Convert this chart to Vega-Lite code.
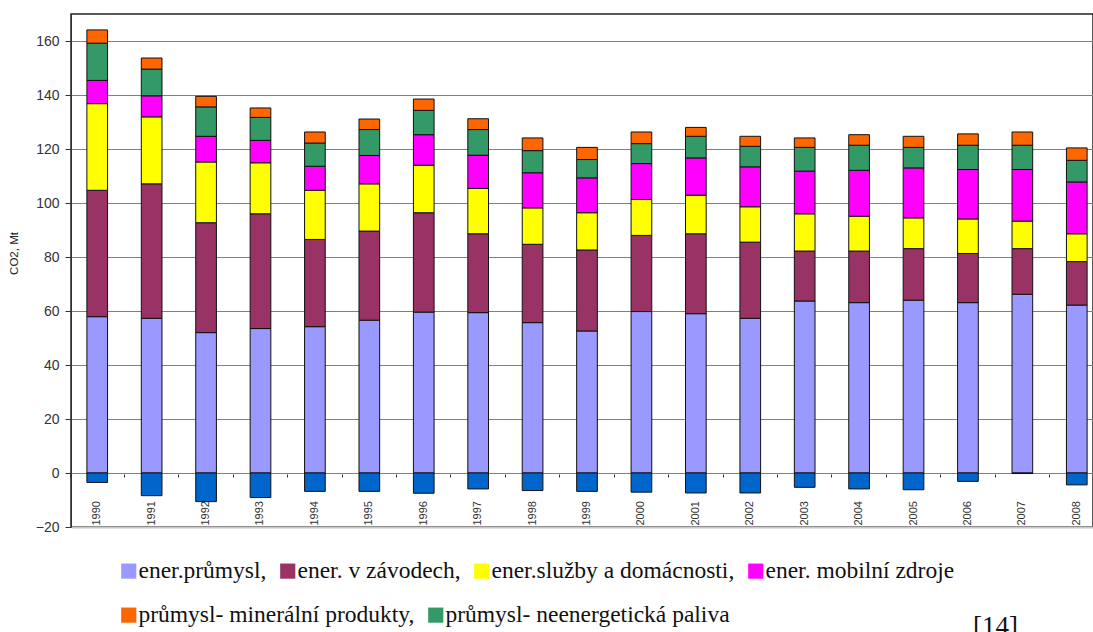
{
  "$schema": "https://vega.github.io/schema/vega-lite/v6.json",
  "autosize": {"type": "none"},
  "padding": {"left": 71, "top": 14, "right": 0, "bottom": 105},
  "width": 1022,
  "height": 513,
  "background": "white",
  "title": {
    "text": "[14]",
    "orient": "bottom",
    "anchor": "end",
    "frame": "group",
    "baseline": "top",
    "font": "Liberation Serif",
    "fontSize": 27,
    "fontWeight": "normal",
    "color": "#111",
    "dx": -75,
    "offset": -13
  },
  "config": {
    "view": {"stroke": "#222", "strokeWidth": 1.5},
    "legend": {
      "orient": "none",
      "title": null,
      "padding": 0,
      "direction": "horizontal",
      "symbolType": "square",
      "symbolSize": 230,
      "symbolStrokeWidth": 0,
      "symbolOpacity": 1,
      "labelFont": "Liberation Serif",
      "labelFontSize": 23.5,
      "labelColor": "#111",
      "labelOffset": -2,
      "labelLimit": 500,
      "columnPadding": 9
    }
  },
  "datasets": {
    "emise": [
      {"rok": "1990", "zdroj": "ener.průmysl", "hodnota": 57.9},
      {"rok": "1990", "zdroj": "ener. v závodech", "hodnota": 46.8},
      {"rok": "1990", "zdroj": "ener.služby a domácnosti", "hodnota": 32.1},
      {"rok": "1990", "zdroj": "ener. mobilní zdroje", "hodnota": 8.6},
      {"rok": "1990", "zdroj": "průmysl- neenergetická paliva", "hodnota": 13.8},
      {"rok": "1990", "zdroj": "průmysl- minerální produkty", "hodnota": 4.9},
      {"rok": "1991", "zdroj": "ener.průmysl", "hodnota": 57.3},
      {"rok": "1991", "zdroj": "ener. v závodech", "hodnota": 49.8},
      {"rok": "1991", "zdroj": "ener.služby a domácnosti", "hodnota": 24.8},
      {"rok": "1991", "zdroj": "ener. mobilní zdroje", "hodnota": 7.8},
      {"rok": "1991", "zdroj": "průmysl- neenergetická paliva", "hodnota": 9.9},
      {"rok": "1991", "zdroj": "průmysl- minerální produkty", "hodnota": 4.1},
      {"rok": "1992", "zdroj": "ener.průmysl", "hodnota": 52.0},
      {"rok": "1992", "zdroj": "ener. v závodech", "hodnota": 40.7},
      {"rok": "1992", "zdroj": "ener.služby a domácnosti", "hodnota": 22.5},
      {"rok": "1992", "zdroj": "ener. mobilní zdroje", "hodnota": 9.5},
      {"rok": "1992", "zdroj": "průmysl- neenergetická paliva", "hodnota": 10.9},
      {"rok": "1992", "zdroj": "průmysl- minerální produkty", "hodnota": 3.9},
      {"rok": "1993", "zdroj": "ener.průmysl", "hodnota": 53.5},
      {"rok": "1993", "zdroj": "ener. v závodech", "hodnota": 42.5},
      {"rok": "1993", "zdroj": "ener.služby a domácnosti", "hodnota": 18.9},
      {"rok": "1993", "zdroj": "ener. mobilní zdroje", "hodnota": 8.3},
      {"rok": "1993", "zdroj": "průmysl- neenergetická paliva", "hodnota": 8.5},
      {"rok": "1993", "zdroj": "průmysl- minerální produkty", "hodnota": 3.5},
      {"rok": "1994", "zdroj": "ener.průmysl", "hodnota": 54.2},
      {"rok": "1994", "zdroj": "ener. v závodech", "hodnota": 32.3},
      {"rok": "1994", "zdroj": "ener.služby a domácnosti", "hodnota": 18.2},
      {"rok": "1994", "zdroj": "ener. mobilní zdroje", "hodnota": 8.9},
      {"rok": "1994", "zdroj": "průmysl- neenergetická paliva", "hodnota": 8.6},
      {"rok": "1994", "zdroj": "průmysl- minerální produkty", "hodnota": 4.1},
      {"rok": "1995", "zdroj": "ener.průmysl", "hodnota": 56.6},
      {"rok": "1995", "zdroj": "ener. v závodech", "hodnota": 33.0},
      {"rok": "1995", "zdroj": "ener.služby a domácnosti", "hodnota": 17.5},
      {"rok": "1995", "zdroj": "ener. mobilní zdroje", "hodnota": 10.5},
      {"rok": "1995", "zdroj": "průmysl- neenergetická paliva", "hodnota": 9.6},
      {"rok": "1995", "zdroj": "průmysl- minerální produkty", "hodnota": 3.9},
      {"rok": "1996", "zdroj": "ener.průmysl", "hodnota": 59.6},
      {"rok": "1996", "zdroj": "ener. v závodech", "hodnota": 36.8},
      {"rok": "1996", "zdroj": "ener.služby a domácnosti", "hodnota": 17.6},
      {"rok": "1996", "zdroj": "ener. mobilní zdroje", "hodnota": 11.3},
      {"rok": "1996", "zdroj": "průmysl- neenergetická paliva", "hodnota": 9.0},
      {"rok": "1996", "zdroj": "průmysl- minerální produkty", "hodnota": 4.2},
      {"rok": "1997", "zdroj": "ener.průmysl", "hodnota": 59.4},
      {"rok": "1997", "zdroj": "ener. v závodech", "hodnota": 29.2},
      {"rok": "1997", "zdroj": "ener.služby a domácnosti", "hodnota": 16.8},
      {"rok": "1997", "zdroj": "ener. mobilní zdroje", "hodnota": 12.3},
      {"rok": "1997", "zdroj": "průmysl- neenergetická paliva", "hodnota": 9.5},
      {"rok": "1997", "zdroj": "průmysl- minerální produkty", "hodnota": 4.0},
      {"rok": "1998", "zdroj": "ener.průmysl", "hodnota": 55.7},
      {"rok": "1998", "zdroj": "ener. v závodech", "hodnota": 29.0},
      {"rok": "1998", "zdroj": "ener.služby a domácnosti", "hodnota": 13.5},
      {"rok": "1998", "zdroj": "ener. mobilní zdroje", "hodnota": 13.0},
      {"rok": "1998", "zdroj": "průmysl- neenergetická paliva", "hodnota": 8.2},
      {"rok": "1998", "zdroj": "průmysl- minerální produkty", "hodnota": 4.7},
      {"rok": "1999", "zdroj": "ener.průmysl", "hodnota": 52.6},
      {"rok": "1999", "zdroj": "ener. v závodech", "hodnota": 30.0},
      {"rok": "1999", "zdroj": "ener.služby a domácnosti", "hodnota": 13.8},
      {"rok": "1999", "zdroj": "ener. mobilní zdroje", "hodnota": 12.9},
      {"rok": "1999", "zdroj": "průmysl- neenergetická paliva", "hodnota": 6.8},
      {"rok": "1999", "zdroj": "průmysl- minerální produkty", "hodnota": 4.5},
      {"rok": "2000", "zdroj": "ener.průmysl", "hodnota": 59.8},
      {"rok": "2000", "zdroj": "ener. v závodech", "hodnota": 28.2},
      {"rok": "2000", "zdroj": "ener.služby a domácnosti", "hodnota": 13.3},
      {"rok": "2000", "zdroj": "ener. mobilní zdroje", "hodnota": 13.3},
      {"rok": "2000", "zdroj": "průmysl- neenergetická paliva", "hodnota": 7.4},
      {"rok": "2000", "zdroj": "průmysl- minerální produkty", "hodnota": 4.3},
      {"rok": "2001", "zdroj": "ener.průmysl", "hodnota": 59.0},
      {"rok": "2001", "zdroj": "ener. v závodech", "hodnota": 29.6},
      {"rok": "2001", "zdroj": "ener.služby a domácnosti", "hodnota": 14.3},
      {"rok": "2001", "zdroj": "ener. mobilní zdroje", "hodnota": 13.8},
      {"rok": "2001", "zdroj": "průmysl- neenergetická paliva", "hodnota": 8.0},
      {"rok": "2001", "zdroj": "průmysl- minerální produkty", "hodnota": 3.3},
      {"rok": "2002", "zdroj": "ener.průmysl", "hodnota": 57.3},
      {"rok": "2002", "zdroj": "ener. v závodech", "hodnota": 28.2},
      {"rok": "2002", "zdroj": "ener.služby a domácnosti", "hodnota": 13.1},
      {"rok": "2002", "zdroj": "ener. mobilní zdroje", "hodnota": 14.8},
      {"rok": "2002", "zdroj": "průmysl- neenergetická paliva", "hodnota": 7.6},
      {"rok": "2002", "zdroj": "průmysl- minerální produkty", "hodnota": 3.7},
      {"rok": "2003", "zdroj": "ener.průmysl", "hodnota": 63.7},
      {"rok": "2003", "zdroj": "ener. v závodech", "hodnota": 18.5},
      {"rok": "2003", "zdroj": "ener.služby a domácnosti", "hodnota": 13.8},
      {"rok": "2003", "zdroj": "ener. mobilní zdroje", "hodnota": 15.8},
      {"rok": "2003", "zdroj": "průmysl- neenergetická paliva", "hodnota": 8.8},
      {"rok": "2003", "zdroj": "průmysl- minerální produkty", "hodnota": 3.5},
      {"rok": "2004", "zdroj": "ener.průmysl", "hodnota": 63.1},
      {"rok": "2004", "zdroj": "ener. v závodech", "hodnota": 19.1},
      {"rok": "2004", "zdroj": "ener.služby a domácnosti", "hodnota": 12.9},
      {"rok": "2004", "zdroj": "ener. mobilní zdroje", "hodnota": 17.0},
      {"rok": "2004", "zdroj": "průmysl- neenergetická paliva", "hodnota": 9.3},
      {"rok": "2004", "zdroj": "průmysl- minerální produkty", "hodnota": 3.9},
      {"rok": "2005", "zdroj": "ener.průmysl", "hodnota": 64.0},
      {"rok": "2005", "zdroj": "ener. v závodech", "hodnota": 19.1},
      {"rok": "2005", "zdroj": "ener.služby a domácnosti", "hodnota": 11.4},
      {"rok": "2005", "zdroj": "ener. mobilní zdroje", "hodnota": 18.5},
      {"rok": "2005", "zdroj": "průmysl- neenergetická paliva", "hodnota": 7.6},
      {"rok": "2005", "zdroj": "průmysl- minerální produkty", "hodnota": 4.1},
      {"rok": "2006", "zdroj": "ener.průmysl", "hodnota": 63.1},
      {"rok": "2006", "zdroj": "ener. v závodech", "hodnota": 18.2},
      {"rok": "2006", "zdroj": "ener.služby a domácnosti", "hodnota": 12.8},
      {"rok": "2006", "zdroj": "ener. mobilní zdroje", "hodnota": 18.3},
      {"rok": "2006", "zdroj": "průmysl- neenergetická paliva", "hodnota": 9.0},
      {"rok": "2006", "zdroj": "průmysl- minerální produkty", "hodnota": 4.2},
      {"rok": "2007", "zdroj": "ener.průmysl", "hodnota": 66.2},
      {"rok": "2007", "zdroj": "ener. v závodech", "hodnota": 16.9},
      {"rok": "2007", "zdroj": "ener.služby a domácnosti", "hodnota": 10.2},
      {"rok": "2007", "zdroj": "ener. mobilní zdroje", "hodnota": 19.1},
      {"rok": "2007", "zdroj": "průmysl- neenergetická paliva", "hodnota": 9.0},
      {"rok": "2007", "zdroj": "průmysl- minerální produkty", "hodnota": 4.9},
      {"rok": "2008", "zdroj": "ener.průmysl", "hodnota": 62.2},
      {"rok": "2008", "zdroj": "ener. v závodech", "hodnota": 16.1},
      {"rok": "2008", "zdroj": "ener.služby a domácnosti", "hodnota": 10.3},
      {"rok": "2008", "zdroj": "ener. mobilní zdroje", "hodnota": 19.2},
      {"rok": "2008", "zdroj": "průmysl- neenergetická paliva", "hodnota": 8.0},
      {"rok": "2008", "zdroj": "průmysl- minerální produkty", "hodnota": 4.6}
    ],
    "propady": [
      {"rok": "1990", "hodnota": -3.5},
      {"rok": "1991", "hodnota": -8.4},
      {"rok": "1992", "hodnota": -10.6},
      {"rok": "1993", "hodnota": -9.1},
      {"rok": "1994", "hodnota": -6.8},
      {"rok": "1995", "hodnota": -6.8},
      {"rok": "1996", "hodnota": -7.5},
      {"rok": "1997", "hodnota": -5.9},
      {"rok": "1998", "hodnota": -6.5},
      {"rok": "1999", "hodnota": -6.8},
      {"rok": "2000", "hodnota": -7.1},
      {"rok": "2001", "hodnota": -7.4},
      {"rok": "2002", "hodnota": -7.4},
      {"rok": "2003", "hodnota": -5.3},
      {"rok": "2004", "hodnota": -5.9},
      {"rok": "2005", "hodnota": -6.2},
      {"rok": "2006", "hodnota": -3.1},
      {"rok": "2007", "hodnota": -0.2},
      {"rok": "2008", "hodnota": -4.4}
    ]
  },
  "resolve": {"axis": {"x": "independent"}},
  "layer": [
    {
      "data": {"name": "emise"},
      "transform": [
        {"calculate": "indexof(['ener.průmysl','ener. v závodech','ener.služby a domácnosti','ener. mobilní zdroje','průmysl- neenergetická paliva','průmysl- minerální produkty'], datum.zdroj)", "as": "poradi"},
        {"stack": "hodnota", "groupby": ["rok"], "sort": [{"field": "poradi", "order": "ascending"}], "as": ["spodek", "vrchol"]},
        {"filter": "datum.poradi < 4"}
      ],
      "mark": {"type": "bar", "stroke": "#111", "strokeWidth": 1},
      "encoding": {
        "x": {
          "field": "rok",
          "type": "nominal",
          "scale": {"type": "band", "paddingInner": 0.62, "paddingOuter": 0.2, "align": 0.73},
          "axis": {
            "title": null,
            "orient": "bottom",
            "labelAngle": -90,
            "labelAlign": "left",
            "labelBaseline": "middle",
            "labelPadding": -2,
            "labelFont": "Liberation Sans",
            "labelFontSize": 11,
            "labelColor": "#333",
            "ticks": false,
            "grid": false,
            "domain": true,
            "domainColor": "#c8c8c8",
            "domainWidth": 2
          }
        },
        "y": {
          "field": "spodek",
          "type": "quantitative",
          "scale": {"domain": [-20, 170], "nice": false},
          "axis": {
            "title": "CO2, Mt",
            "titleFont": "Liberation Sans",
            "titleFontSize": 11.5,
            "titleFontWeight": "normal",
            "titleColor": "#222",
            "titleX": -52,
            "titleY": 239,
            "values": [-20, 0, 20, 40, 60, 80, 100, 120, 140, 160],
            "labelFont": "Liberation Sans",
            "labelFontSize": 14,
            "labelColor": "#333",
            "labelPadding": 6,
            "tickSize": 6,
            "tickColor": "#333",
            "domainColor": "#333",
            "grid": true,
            "gridColor": {"condition": {"test": "datum.value == -20", "value": "#d0d0d0"}, "value": "#808080"},
            "gridWidth": 1
          }
        },
        "y2": {"field": "vrchol"},
        "color": {
          "field": "zdroj",
          "type": "nominal",
          "scale": {
            "domain": ["ener.průmysl", "ener. v závodech", "ener.služby a domácnosti", "ener. mobilní zdroje"],
            "range": ["#9999FF", "#993366", "#FFFF00", "#FF00FF"]
          },
          "legend": {
            "legendX": 46,
            "legendY": 545,
            "labelExpr": "datum.label + (datum.label == 'ener. mobilní zdroje' ? '' : ',')"
          }
        }
      }
    },
    {
      "data": {"name": "emise"},
      "transform": [
        {"calculate": "indexof(['ener.průmysl','ener. v závodech','ener.služby a domácnosti','ener. mobilní zdroje','průmysl- neenergetická paliva','průmysl- minerální produkty'], datum.zdroj)", "as": "poradi"},
        {"stack": "hodnota", "groupby": ["rok"], "sort": [{"field": "poradi", "order": "ascending"}], "as": ["spodek", "vrchol"]},
        {"filter": "datum.poradi >= 4"}
      ],
      "mark": {"type": "bar", "stroke": "#111", "strokeWidth": 1},
      "encoding": {
        "x": {"field": "rok", "type": "nominal", "axis": null},
        "y": {"field": "spodek", "type": "quantitative"},
        "y2": {"field": "vrchol"},
        "fill": {
          "field": "zdroj",
          "type": "nominal",
          "scale": {
            "domain": ["průmysl- minerální produkty", "průmysl- neenergetická paliva"],
            "range": ["#FF6600", "#339966"]
          },
          "legend": {
            "legendX": 46,
            "legendY": 589,
            "labelExpr": "datum.label + (datum.label == 'průmysl- minerální produkty' ? ',' : '')"
          }
        }
      }
    },
    {
      "data": {"name": "propady"},
      "mark": {"type": "bar", "stroke": "#111", "strokeWidth": 1, "color": "#0066CC"},
      "encoding": {
        "x": {
          "field": "rok",
          "type": "nominal",
          "axis": {
            "title": null,
            "orient": "bottom",
            "offset": -53,
            "labels": false,
            "domain": false,
            "grid": false,
            "ticks": true,
            "tickSize": 3,
            "tickColor": "#333",
            "bandPosition": -0.816
          }
        },
        "y": {"field": "hodnota", "type": "quantitative"}
      }
    }
  ]
}
